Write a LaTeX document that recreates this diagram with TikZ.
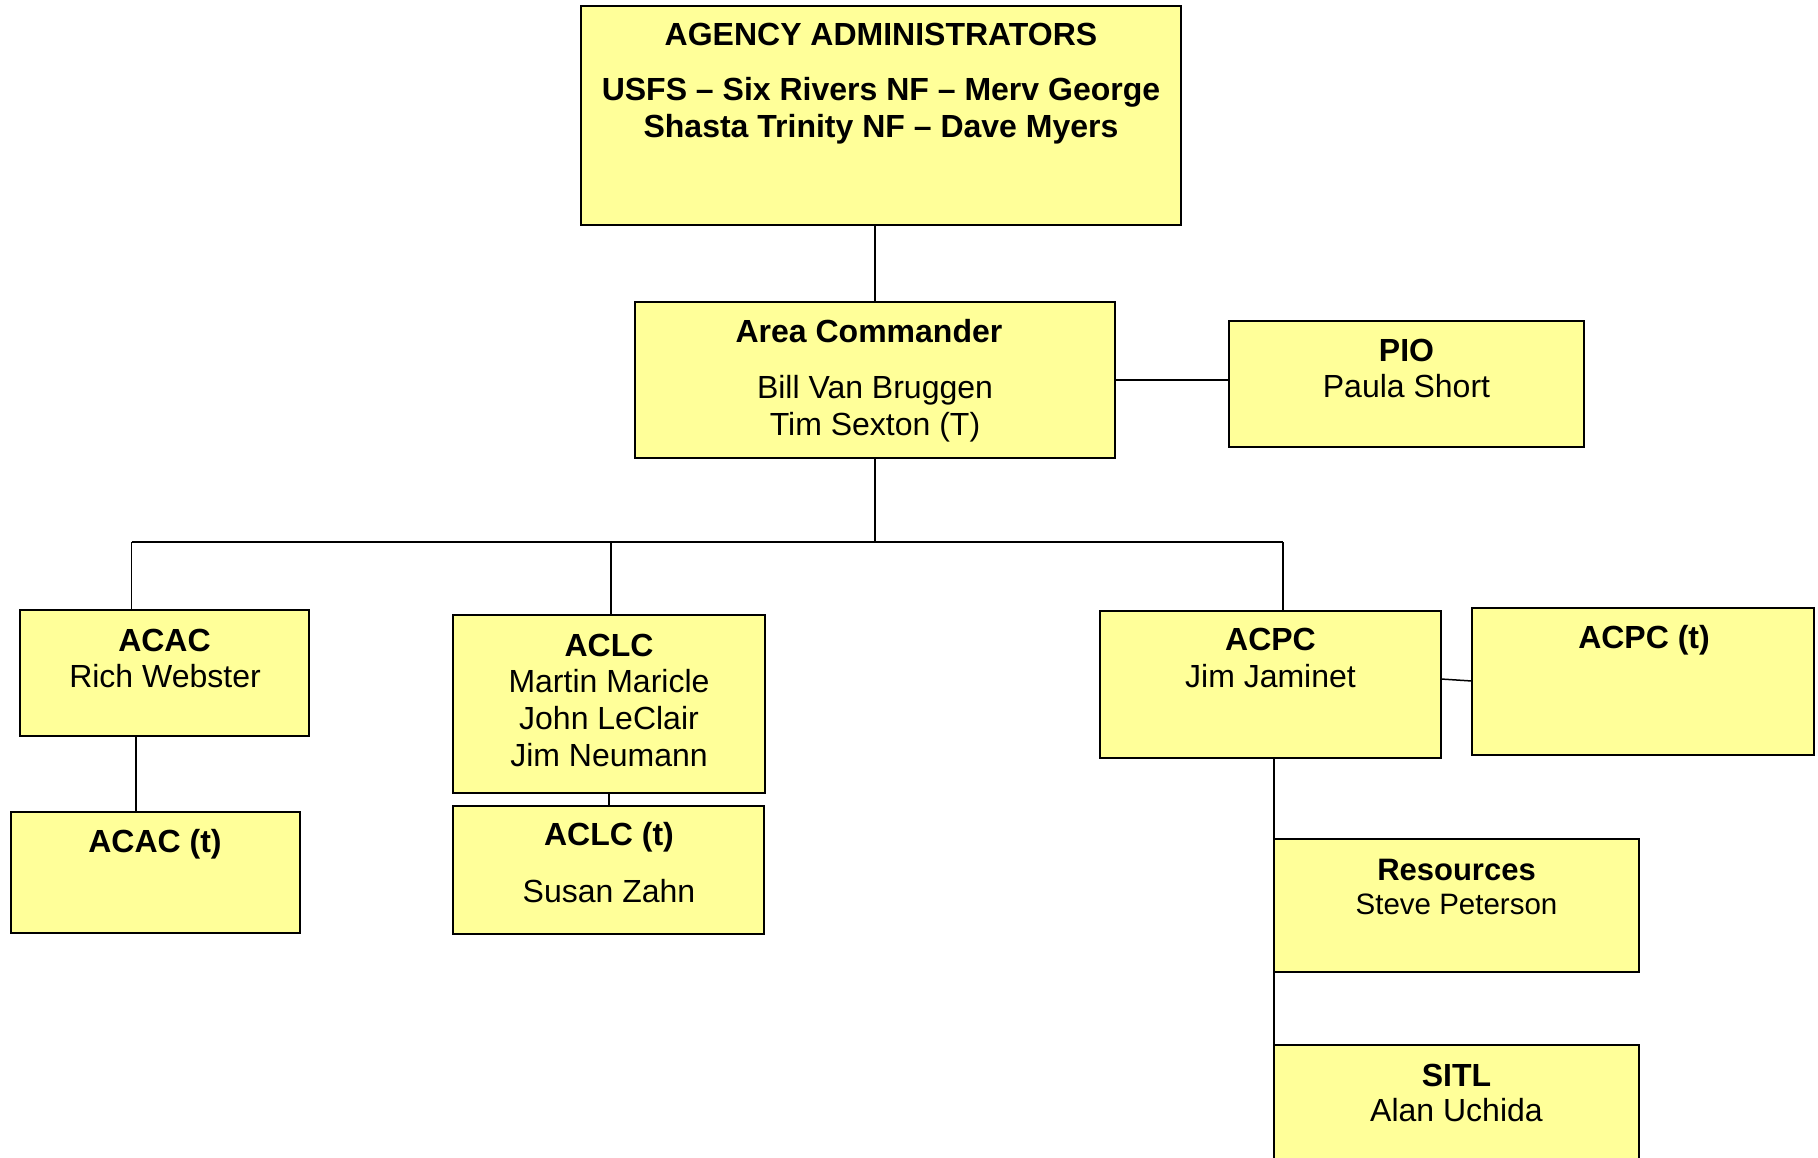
\documentclass[tikz,border=0pt]{standalone}
\usepackage{fontspec}
\setmainfont{Liberation Sans}
\definecolor{boxfill}{HTML}{FFFF99}
\begin{document}
\begin{tikzpicture}[x=1pt,y=-1pt,
  box/.style={draw=black,fill=boxfill,line width=1.7pt,inner sep=0pt,outer sep=0pt,rectangle},
  conn/.style={draw=black,line width=1.5pt},
  busline/.style={draw=black,line width=2.2pt},
  tr/.style={anchor=base,inner sep=0pt,font=\fontsize{32}{37}\selectfont},
  tb/.style={anchor=base,inner sep=0pt,font=\fontsize{32}{37}\selectfont\bfseries},
  ts/.style={anchor=base,inner sep=0pt,font=\fontsize{29.5}{34}\selectfont}]
\useasboundingbox (0,0) rectangle (1818,1157);
\clip (0,0) rectangle (1818,1157);
\fill[white] (0,0) rectangle (1818,1157);
% boxes
\node[box,minimum width=600pt,minimum height=219pt] (ag) at (881,115.5) {};
\node[box,minimum width=480pt,minimum height=156pt] (ac) at (875,380) {};
\node[box,minimum width=355pt,minimum height=126pt] (pio) at (1406.5,384) {};
\node[box,minimum width=289pt,minimum height=126pt] (acac) at (164.5,673) {};
\node[box,minimum width=289pt,minimum height=121pt] (acact) at (155.5,872.5) {};
\node[box,minimum width=312pt,minimum height=178pt] (aclc) at (609,704) {};
\node[box,minimum width=311pt,minimum height=128pt] (aclct) at (608.5,870) {};
\node[box,minimum width=341pt,minimum height=147pt] (acpc) at (1270.5,684.5) {};
\node[box,minimum width=342pt,minimum height=147pt] (acpct) at (1643,681.5) {};
\node[box,minimum width=365pt,minimum height=133pt] (res) at (1456.5,905.5) {};
\node[box,minimum width=365pt,minimum height=130pt] (sitl) at (1456.5,1110) {};
% texts
\node[tb] (ag1) at (881,45) {AGENCY ADMINISTRATORS};
\node[tb] (ag2) at (881,100) {USFS – Six Rivers NF – Merv George};
\node[tb] (ag3) at (881,137) {Shasta Trinity NF – Dave Myers};
\node[tb] (ac1) at (869,342) {Area Commander};
\node[tr] (ac2) at (875,398) {Bill Van Bruggen};
\node[tr] (ac3) at (875,435) {Tim Sexton (T)};
\node[tb] (pio1) at (1406.5,361) {PIO};
\node[tr] (pio2) at (1406.5,397) {Paula Short};
\node[tb] (acac1) at (164.5,651) {ACAC};
\node[tr] (acac2) at (165,687) {Rich Webster};
\node[tb] (acact1) at (155,852) {ACAC (t)};
\node[tb] (aclc1) at (609,656) {ACLC};
\node[tr] (aclc2) at (609,692) {Martin Maricle};
\node[tr] (aclc3) at (609,729) {John LeClair};
\node[tr] (aclc4) at (609,766) {Jim Neumann};
\node[tb] (aclct1) at (609,845) {ACLC (t)};
\node[tr] (aclct2) at (609,902) {Susan Zahn};
\node[tb] (acpc1) at (1270.5,650) {ACPC};
\node[tr] (acpc2) at (1270.5,687) {Jim Jaminet};
\node[tb] (acpct1) at (1644,648) {ACPC (t)};
\node[tb,font=\fontsize{31}{36}\selectfont\bfseries] (res1) at (1456.5,880) {Resources};
\node[ts] (res2) at (1456.5,914) {Steve Peterson};
\node[tb] (sitl1) at (1456.5,1086) {SITL};
\node[tr] (sitl2) at (1456.5,1121) {Alan Uchida};
% connectors
\coordinate (busL) at (131.5,542);
\coordinate (busC) at (611,542);
\coordinate (busR) at (1283,542);
\draw[conn] (ac.north) -- (ac.north |- ag.south);
\draw[conn] (ac.south) -- (ac.south |- busL);
\draw[busline] (busL) -- (busR);
\draw[conn] (busL) -- (busL |- acac.north);
\draw[conn] (busC) -- (busC |- aclc.north);
\draw[conn] (busR) -- (busR |- acpc.north);
\draw[conn] ([xshift=-28.5pt]acac.south) -- ([xshift=-28.5pt]acac.south |- acact.north);
\draw[conn] (aclc.south) -- (aclc.south |- aclct.north);
\draw[conn] (ac.east) -- (pio.west |- ac.east);
\draw[conn] ([yshift=5.5pt]acpc.east) -- ([yshift=0.5pt]acpct.west);
\draw[conn] (acpc.south -| res.west) -- (sitl.north west);
\end{tikzpicture}
\end{document}
